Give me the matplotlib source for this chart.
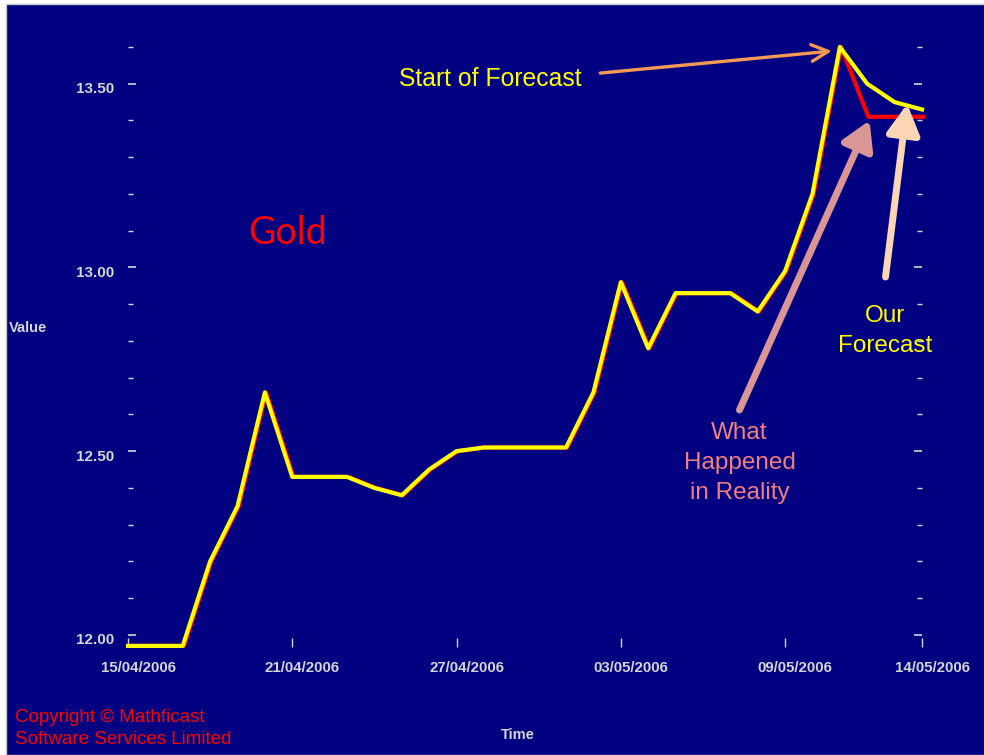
import matplotlib
matplotlib.use("Agg")
import matplotlib.pyplot as plt
import matplotlib.transforms as mtransforms
from matplotlib.patches import Rectangle
from matplotlib.ticker import MultipleLocator
import pandas as pd

# daily values (15/04/2006 .. 14/05/2006)
dates = pd.date_range("2006-04-15", "2006-05-14", freq="D")
history = [11.97, 11.97, 11.97, 12.20, 12.35, 12.66, 12.43, 12.43, 12.43,
           12.40, 12.38, 12.45, 12.50, 12.51, 12.51, 12.51, 12.51, 12.66,
           12.96, 12.78, 12.93, 12.93, 12.93, 12.88, 12.99, 13.20, 13.60]
forecast_tail = [13.50, 13.45, 13.43]
actual_tail = [13.41, 13.41, 13.41]

forecast = history + forecast_tail
actual = history + actual_tail

tick_dates = pd.to_datetime(["2006-04-15", "2006-04-21", "2006-04-27",
                             "2006-05-03", "2006-05-09", "2006-05-14"])
tick_labels = ["15/04/2006", "21/04/2006", "27/04/2006",
               "03/05/2006", "09/05/2006", "14/05/2006"]

NAVY = "#000080"
GREY = "#d4d4d4"

fig = plt.figure(figsize=(9.84, 7.55), dpi=100, facecolor="white")
fig.patches.append(Rectangle((6 / 984, 0), 1, 1 - 4 / 755, transform=fig.transFigure,
                             facecolor=NAVY, edgecolor="#c8c8c8", lw=1, zorder=-5))
ax = fig.add_axes([128 / 984, 1 - 647 / 755, 794 / 984, 600 / 755])
ax.set_zorder(2)
ax.patch.set_visible(False)
for s in ax.spines.values():
    s.set_visible(False)

# red (actual) sits one pixel to the right, under the yellow forecast
red_shift = mtransforms.ScaledTranslation(1.2 / 100, 0, fig.dpi_scale_trans)
ax.plot(dates, actual, color="#ff0000", lw=3,
        transform=ax.transData + red_shift, clip_on=False)
ax.plot(dates, forecast, color="#ffff00", lw=3, clip_on=False)

ax.set_xlim(dates[0], dates[-1])
ax.set_ylim(11.967, 13.60)

ax.set_xticks(tick_dates)
ax.set_xticklabels(tick_labels)
ax.yaxis.set_major_locator(MultipleLocator(0.5))
ax.yaxis.set_minor_locator(MultipleLocator(0.1))
ax.yaxis.set_major_formatter(plt.FormatStrFormatter("%.2f"))

ax.tick_params(axis="x", direction="in", length=6.5, width=1, color=GREY,
               labelcolor=GREY, pad=10, labelsize=10.8)
ax.tick_params(axis="y", which="major", direction="in", length=6, width=1.2,
               color=GREY, labelcolor=GREY, pad=10, labelsize=11,
               left=True, right=True)
ax.tick_params(axis="y", which="minor", direction="in", length=3.5, width=1,
               color=GREY, left=True, right=True)

for lab in ax.get_xticklabels():
    lab.set_fontweight("bold")
    lab.set_fontfamily("Liberation Sans")
    lab.set_transform(lab.get_transform() +
                      mtransforms.ScaledTranslation(10 / 100, 0, fig.dpi_scale_trans))
for lab in ax.get_yticklabels():
    lab.set_fontweight("bold")
    lab.set_fontfamily("Liberation Sans")
    lab.set_transform(lab.get_transform() +
                      mtransforms.ScaledTranslation(0, -4 / 100, fig.dpi_scale_trans))

ax.set_ylabel("Value", rotation=0, color=GREY, fontsize=10.5, fontweight="bold",
              family="Liberation Sans", ha="center", va="center")
ax.yaxis.set_label_coords(-0.126, 0.532)
ax.set_xlabel("Time", color=GREY, fontsize=10.5, fontweight="bold",
              family="Liberation Sans", ha="center", va="center")
ax.xaxis.set_label_coords(0.491, -0.147)

# annotations
d = lambda s: pd.Timestamp(s)
ax.text(d("2006-04-20 20:00"), 13.094, "Gold", color="#ff0000", fontsize=27,
        family="Lato", ha="center", va="center")

ax.text(d("2006-04-28 06:00"), 13.513, "Start of Forecast", color="#ffff00",
        fontsize=17.8, family="Liberation Sans", ha="center", va="center")
ax.annotate("", xy=(d("2006-05-10 17:00"), 13.589), xytext=(d("2006-05-02 06:00"), 13.529),
            arrowprops=dict(arrowstyle="->,head_length=0.6,head_width=0.3",
                            color="#f59a55", lw=2.4, mutation_scale=20,
                            shrinkA=0, shrinkB=0), annotation_clip=False)

ax.text(d("2006-05-07 08:00"), 12.468, "What\nHappened\nin Reality", color="#f08080",
        fontsize=17.5, family="Liberation Sans", ha="center", va="center",
        linespacing=1.45)
ax.annotate("", xy=(d("2006-05-12 02:00"), 13.40), xytext=(d("2006-05-07 08:00"), 12.612),
            arrowprops=dict(arrowstyle="-|>,head_length=0.85,head_width=0.5",
                            color="#d99694", lw=5, mutation_scale=20,
                            shrinkA=0, shrinkB=0), annotation_clip=False)

ax.text(d("2006-05-12 16:00"), 12.827, "Our\nForecast", color="#ffff00",
        fontsize=17.5, family="Liberation Sans", ha="center", va="center",
        linespacing=1.45)
ax.annotate("", xy=(d("2006-05-13 11:00"), 13.445), xytext=(d("2006-05-12 16:00"), 12.974),
            arrowprops=dict(arrowstyle="-|>,head_length=0.9,head_width=0.5",
                            color="#fcd5b5", lw=5, mutation_scale=20,
                            shrinkA=0, shrinkB=0), annotation_clip=False)

fig.text(15 / 984, 1 - 728.5 / 755, "Copyright \u00a9 Mathficast\nSoftware Services Limited",
         color="#ff0000", fontsize=13.5, family="Liberation Sans", ha="left", va="center",
         linespacing=1.45)

fig.savefig("out.png", dpi=100, facecolor=fig.get_facecolor())
